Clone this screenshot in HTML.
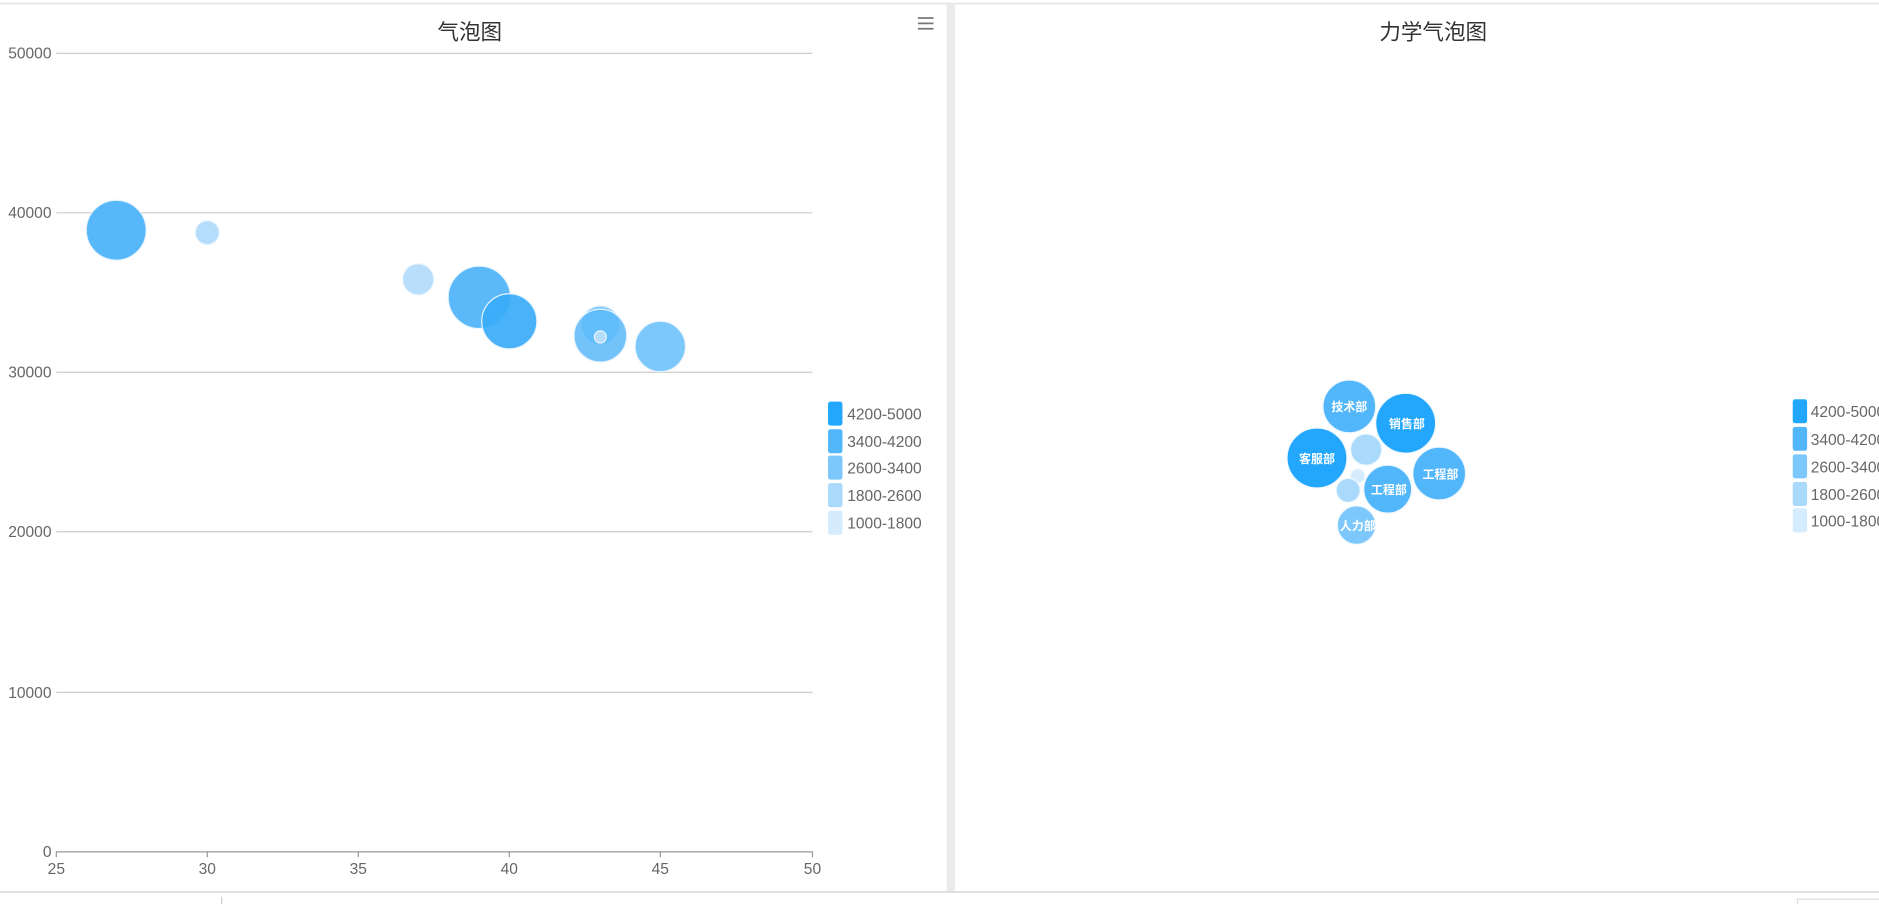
<!DOCTYPE html>
<html><head><meta charset="utf-8"><style>
html,body{margin:0;padding:0;background:#fff;overflow:hidden}
svg{display:block}
text{font-family:"Liberation Sans","Noto Sans CJK SC",sans-serif}
</style></head><body>
<svg width="1879" height="904" viewBox="0 0 1568 754" preserveAspectRatio="none" xmlns="http://www.w3.org/2000/svg">
<rect width="1568" height="754" fill="#fff"/>
<line x1="0" y1="3" x2="1568" y2="3" stroke="#e4e4e4" stroke-width="1.5"/>
<rect x="790" y="3" width="7" height="741" fill="#ebebeb"/>
<line x1="0" y1="744" x2="1568" y2="744" stroke="#dcdcdc" stroke-width="1.5"/>
<line x1="185" y1="748" x2="185" y2="754" stroke="#ccc"/>
<rect x="1500" y="750" width="70" height="8" fill="none" stroke="#ddd"/>
<!-- left chart -->
<text x="392" y="33" font-size="18" fill="#333" text-anchor="middle">气泡图</text>
<g stroke="#777" stroke-width="1.5"><line x1="766" y1="15" x2="779" y2="15"/><line x1="766" y1="19.5" x2="779" y2="19.5"/><line x1="766" y1="24" x2="779" y2="24"/></g>
<g stroke="#ccc" stroke-width="1">
<line x1="47" y1="44.5" x2="678" y2="44.5"/><line x1="47" y1="177.5" x2="678" y2="177.5"/><line x1="47" y1="310.5" x2="678" y2="310.5"/><line x1="47" y1="443.5" x2="678" y2="443.5"/><line x1="47" y1="577.5" x2="678" y2="577.5"/>
</g>
<line x1="47" y1="710.5" x2="678" y2="710.5" stroke="#999"/>
<g stroke="#999"><line x1="47" y1="710" x2="47" y2="715"/><line x1="173" y1="710" x2="173" y2="715"/><line x1="299" y1="710" x2="299" y2="715"/><line x1="425" y1="710" x2="425" y2="715"/><line x1="551" y1="710" x2="551" y2="715"/><line x1="678" y1="710" x2="678" y2="715"/></g>
<g font-size="13" fill="#666" text-anchor="end">
<text x="43" y="49">50000</text><text x="43" y="182">40000</text><text x="43" y="315">30000</text><text x="43" y="448">20000</text><text x="43" y="582">10000</text><text x="43" y="715">0</text>
</g>
<g font-size="13" fill="#666" text-anchor="middle">
<text x="47" y="729">25</text><text x="173" y="729">30</text><text x="299" y="729">35</text><text x="425" y="729">40</text><text x="551" y="729">45</text><text x="678" y="729">50</text>
</g>
<g stroke="#e8f4fe" stroke-width="1">
<circle cx="97" cy="192" r="25" fill="#4db3f9" fill-opacity="0.95"/>
<circle cx="173" cy="194" r="10" fill="#b5ddfb"/>
<circle cx="349" cy="233" r="13" fill="#b8defb"/>
<circle cx="400" cy="248" r="26" fill="#4db3f9" fill-opacity="0.92"/>
<circle cx="425" cy="268" r="23" fill="#3aabf8" fill-opacity="0.92"/>
<circle cx="501" cy="271" r="16" fill="#7cc6fa" fill-opacity="0.9"/>
<circle cx="501" cy="280" r="22" fill="#5ab8f9" fill-opacity="0.85"/>
<circle cx="501" cy="281" r="5" fill="#b5ddfb"/>
<circle cx="551" cy="289" r="21" fill="#7cc8fb"/>
</g>
<g>
<rect x="691" y="335" width="12" height="20" rx="2" fill="#22a7fd"/>
<rect x="691" y="358" width="12" height="20" rx="2" fill="#52b6fb"/>
<rect x="691" y="380" width="12" height="20" rx="2" fill="#7cc8fc"/>
<rect x="691" y="403" width="12" height="20" rx="2" fill="#a9dafc"/>
<rect x="691" y="426" width="12" height="20" rx="2" fill="#d4ecfd"/>
</g>
<g font-size="13" fill="#666">
<text x="707" y="350">4200-5000</text><text x="707" y="373">3400-4200</text><text x="707" y="395">2600-3400</text><text x="707" y="418">1800-2600</text><text x="707" y="441">1000-1800</text>
</g>
<!-- right chart -->
<text x="1196" y="33" font-size="18" fill="#333" text-anchor="middle">力学气泡图</text>
<g stroke="#eef7fe" stroke-width="1">
<circle cx="1126" cy="339" r="22" fill="#52b6fb"/>
<circle cx="1173" cy="353" r="25" fill="#22a7fd"/>
<circle cx="1099" cy="382" r="25" fill="#22a7fd"/>
<circle cx="1140" cy="375" r="13" fill="#a9dafc"/>
<circle cx="1133" cy="397" r="6" fill="#d4ecfd"/>
<circle cx="1158" cy="408" r="20" fill="#52b6fb"/>
<circle cx="1201" cy="395" r="22" fill="#52b6fb"/>
<circle cx="1125" cy="409" r="10" fill="#a9dafc"/>
<circle cx="1132" cy="438" r="16" fill="#7cc8fc"/>
</g>
<g font-size="10" fill="#fff" font-weight="bold" text-anchor="middle">
<text x="1126" y="343">技术部</text><text x="1174" y="357">销售部</text><text x="1099" y="386">客服部</text><text x="1159" y="412">工程部</text><text x="1202" y="399">工程部</text><text x="1133" y="442">人力部</text>
</g>
<g>
<rect x="1496" y="333" width="12" height="20" rx="2" fill="#22a7fd"/>
<rect x="1496" y="356" width="12" height="20" rx="2" fill="#52b6fb"/>
<rect x="1496" y="379" width="12" height="20" rx="2" fill="#7cc8fc"/>
<rect x="1496" y="402" width="12" height="20" rx="2" fill="#a9dafc"/>
<rect x="1496" y="424" width="12" height="20" rx="2" fill="#d4ecfd"/>
</g>
<g font-size="13" fill="#666">
<text x="1511" y="348">4200-5000</text><text x="1511" y="371">3400-4200</text><text x="1511" y="394">2600-3400</text><text x="1511" y="417">1800-2600</text><text x="1511" y="439">1000-1800</text>
</g>
</svg>
</body></html>
